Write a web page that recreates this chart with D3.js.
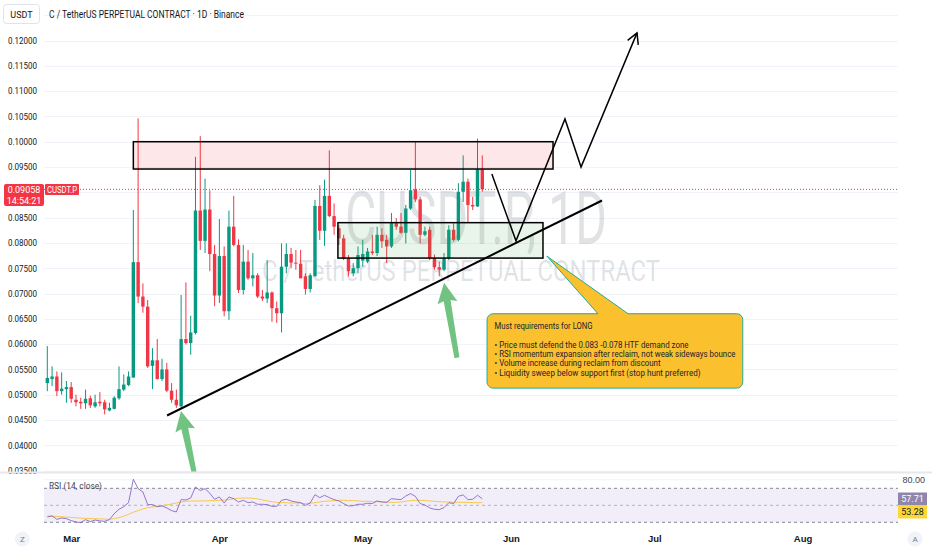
<!DOCTYPE html>
<html>
<head>
<meta charset="UTF-8">
<style>
  body { margin: 0; background: #ffffff; }
  svg { display: block; font-family: Roboto, "Noto Sans", sans-serif; }
</style>
</head>
<body>
<svg></svg>
<script src="https://cdnjs.cloudflare.com/ajax/libs/d3/7.8.5/d3.min.js"></script>
<script>

// daily candles, first one on 24 Feb 2025
const firstDay = "2025-02-24";

const opens = [0.0523,0.0531,0.0536,0.0507,0.0511,0.0515,0.0490,0.0486,0.0483,0.0493,
  0.0477,0.0486,0.0485,0.0469,0.0472,0.0493,0.0510,0.0519,0.0534,0.0762,
  0.0694,0.0674,0.0557,0.0568,0.0531,0.0550,0.0508,0.0490,0.0477,0.0610,
  0.0602,0.0622,0.0864,0.0804,0.0866,0.0778,0.0696,0.0774,0.0665,0.0832,
  0.0796,0.0707,0.0763,0.0730,0.0736,0.0694,0.0690,0.0702,0.0671,0.0661,
  0.0753,0.0778,0.0761,0.0759,0.0734,0.0709,0.0734,0.0873,0.0824,0.0893,
  0.0853,0.0829,0.0809,0.0770,0.0740,0.0750,0.0765,0.0763,0.0783,0.0780,
  0.0816,0.0806,0.0793,0.0839,0.0832,0.0820,0.0868,0.0906,0.0886,0.0816,
  0.0826,0.0770,0.0752,0.0747,0.0770,0.0826,0.0806,0.0901,0.0921,0.0875,
  0.0872,0.0945];

const highs = [0.0596,0.0556,0.0546,0.0544,0.0527,0.0525,0.0500,0.0494,0.0510,0.0498,
  0.0500,0.0505,0.0490,0.0484,0.0497,0.0556,0.0540,0.0546,0.0865,0.1046,
  0.0720,0.0687,0.0592,0.0610,0.0571,0.0563,0.0523,0.0510,0.0697,0.0722,
  0.0656,0.0970,0.1011,0.0927,0.0904,0.0796,0.0847,0.0793,0.0864,0.0893,
  0.0807,0.0796,0.0786,0.0780,0.0740,0.0707,0.0766,0.0704,0.0684,0.0799,
  0.0799,0.0790,0.0786,0.0786,0.0740,0.0740,0.0885,0.0914,0.0925,0.0983,
  0.0878,0.0835,0.0816,0.0776,0.0760,0.0793,0.0806,0.0790,0.0816,0.0832,
  0.0829,0.0816,0.0859,0.0849,0.0859,0.0875,0.0944,0.1000,0.0891,0.0832,
  0.0832,0.0777,0.0763,0.0780,0.0835,0.0839,0.0918,0.0973,0.0927,0.0891,
  0.1006,0.0973];

const lows = [0.0507,0.0517,0.0497,0.0500,0.0484,0.0484,0.0477,0.0472,0.0472,0.0474,
  0.0474,0.0477,0.0461,0.0467,0.0471,0.0490,0.0507,0.0517,0.0533,0.0681,
  0.0662,0.0553,0.0511,0.0530,0.0527,0.0505,0.0484,0.0474,0.0474,0.0599,
  0.0579,0.0619,0.0786,0.0780,0.0744,0.0675,0.0681,0.0655,0.0648,0.0793,
  0.0701,0.0698,0.0727,0.0714,0.0691,0.0685,0.0681,0.0644,0.0642,0.0623,
  0.0740,0.0750,0.0747,0.0730,0.0698,0.0702,0.0734,0.0806,0.0794,0.0851,
  0.0816,0.0796,0.0766,0.0734,0.0734,0.0740,0.0753,0.0760,0.0776,0.0774,
  0.0790,0.0760,0.0790,0.0826,0.0818,0.0799,0.0865,0.0881,0.0799,0.0813,
  0.0766,0.0747,0.0734,0.0744,0.0766,0.0803,0.0803,0.0881,0.0839,0.0865,
  0.0871,0.0901];

const closes = [0.0533,0.0536,0.0507,0.0512,0.0515,0.0492,0.0485,0.0483,0.0492,0.0479,
  0.0485,0.0483,0.0471,0.0474,0.0494,0.0511,0.0520,0.0536,0.0762,0.0694,
  0.0674,0.0556,0.0568,0.0531,0.0550,0.0508,0.0490,0.0479,0.0610,0.0602,
  0.0623,0.0864,0.0804,0.0866,0.0778,0.0696,0.0774,0.0665,0.0832,0.0796,
  0.0707,0.0763,0.0730,0.0736,0.0694,0.0690,0.0702,0.0671,0.0661,0.0753,
  0.0778,0.0761,0.0759,0.0730,0.0709,0.0736,0.0873,0.0824,0.0893,0.0853,
  0.0832,0.0809,0.0770,0.0744,0.0750,0.0776,0.0778,0.0783,0.0780,0.0816,
  0.0803,0.0793,0.0839,0.0832,0.0820,0.0868,0.0904,0.0886,0.0816,0.0823,
  0.0770,0.0752,0.0747,0.0770,0.0826,0.0806,0.0901,0.0921,0.0875,0.0872,
  0.0945,0.09058];

const rsi = [36.3,37.5,33.5,35.1,34.3,32.0,30.4,29.6,33.1,30.8,
  32.7,31.6,31.2,33.1,40.2,45.3,48.4,53.1,80.6,69.6,
  65.7,50.8,50.8,48.4,49.2,46.9,43.7,42.2,56.7,56.3,
  58.6,71.6,67.3,69.6,64.1,57.1,59.8,52.7,59.8,57.8,
  53.9,55.9,53.1,53.9,51.2,51.2,50.8,48.8,48.8,55.9,
  57.1,55.1,53.9,53.1,50.0,52.7,62.5,59.0,61.8,59.0,
  56.7,55.1,52.0,49.2,49.6,51.2,51.2,52.4,52.0,55.1,
  53.9,53.5,57.8,57.1,56.7,61.0,63.7,60.6,52.0,50.4,
  46.9,45.3,44.9,47.3,53.1,52.0,60.6,62.2,56.7,57.1,
  61.8,57.71];

const rsiMa = [37.5,37.2,36.9,36.5,36.1,35.7,35.3,34.9,34.6,34.4,34.2,34.0,33.8,33.6,
  34.3,35.5,37.1,39.4,41.8,43.7,45.7,47.3,48.0,48.8,49.6,50.4,51.6,52.7,
  53.9,54.7,55.1,55.1,55.1,55.1,55.5,55.5,55.9,56.3,56.7,57.5,58.2,58.6,
  58.6,58.2,57.5,56.3,55.1,54.3,53.5,53.1,53.1,52.7,52.7,52.4,52.0,52.4,
  53.1,53.9,54.7,55.1,55.5,55.9,55.9,55.5,55.5,55.1,54.7,54.7,54.3,54.3,
  53.9,53.9,53.5,53.5,53.9,54.7,55.5,55.9,55.9,55.5,55.1,54.7,54.3,53.9,
  53.9,53.5,53.5,53.5,53.5,53.1,53.1,53.28];

const priceGrid = [0.035,0.04,0.045,0.05,0.055,0.06,0.065,0.07,0.075,0.08,
  0.085,0.09,0.095,0.1,0.105,0.11,0.115,0.12,0.125];
// 0.09 and 0.125 sit under the price tag and the USDT button
const priceLabels = [0.035,0.04,0.045,0.05,0.055,0.06,0.065,0.07,0.075,0.08,
  0.085,0.095,0.1,0.105,0.11,0.115,0.12];
const monthTicks = ["2025-03-01","2025-04-01","2025-05-01","2025-06-01","2025-07-01","2025-08-01"];
const rsiBands = [70, 50, 30];
const rsiTicks = [80];

// drawings, in days after firstDay and price
const supplyZone = [18.0, 105.8, 0.0946, 0.1000];
const demandZone = [60.8, 103.7, 0.0770, 0.0840];
const trendLine = [[25.05, 0.04589], [116.05, 0.08838]];
const projection = [[93.0, 0.0936], [98.05, 0.0804], [108.3, 0.1045], [111.66, 0.0950], [123.37, 0.1215]];
const arrows = [[[27.97, 0.0468], [30.7, 0.0347]], [[83.0, 0.0721], [85.7, 0.0573]]];
const callout = { box: [92.0, 145.5, 0.0660, 0.0513], tip: [104.5, 0.0774], base: [115.2, 121.5] };
const noteTitle = "Must requirements for LONG";
const noteLines = [
  "• Price must defend the 0.083 -0.078 HTF demand zone",
  "• RSI momentum expansion after reclaim, not weak sideways bounce",
  "• Volume increase during reclaim from discount",
  "• Liquidity sweep below support first (stop hunt preferred)"
];
const noteWidths = [98, 194, 241, 166, 206];

const W = 932, H = 550;
const green = "#089981", red = "#f23645";
const left = 44, right = 898;
const paneBottom = 472, rsiTop = 473, rsiBottom = 531;

const svg = d3.select("svg").attr("width", W).attr("height", H);

const t0 = d3.utcParse("%Y-%m-%d")(firstDay);
const DAY = 864e5;
const day = d => new Date(+t0 + d * DAY);
const dates = closes.map((_, i) => day(i));

const x = d3.scaleUtc()
    .domain([t0, day(180)])
    .range([47.3, 47.3 + 180 * 4.78]);
const y = d3.scaleLinear().domain([0.035, 0.12]).range([470.6, 40.5]);
const yr = d3.scaleLinear().domain([30, 70]).range([522.3, 488.3]);

const px = p => [x(day(p[0])), y(p[1])];

svg.append("clipPath").attr("id", "pc")
  .append("rect").attr("x", left).attr("y", 0).attr("width", right - left).attr("height", paneBottom);
svg.append("clipPath").attr("id", "rc")
  .append("rect").attr("x", left).attr("y", rsiTop).attr("width", right - left).attr("height", rsiBottom - rsiTop);

// grid
svg.append("g").selectAll("line").data(priceGrid).enter().append("line")
    .attr("x1", left).attr("x2", right)
    .attr("y1", d => Math.round(y(d)) + 0.5).attr("y2", d => Math.round(y(d)) + 0.5)
    .attr("stroke", "#f0f3fa");

// watermark
svg.append("text").attr("x", 476).attr("y", 244).attr("text-anchor", "middle")
    .attr("font-size", 74).attr("textLength", 262).attr("lengthAdjust", "spacingAndGlyphs")
    .attr("fill", "rgba(120,123,134,0.22)").text("CUSDT.P, 1D");
svg.append("text").attr("x", 461).attr("y", 281).attr("text-anchor", "middle")
    .attr("font-size", 30).attr("textLength", 398).attr("lengthAdjust", "spacingAndGlyphs")
    .attr("fill", "rgba(120,123,134,0.22)").text("C / TetherUS PERPETUAL CONTRACT");

const price = svg.append("g").attr("clip-path", "url(#pc)");

// candles
const candles = price.append("g").selectAll("g").data(dates).enter().append("g");
candles.append("line")
    .attr("x1", d => x(d)).attr("x2", d => x(d))
    .attr("y1", (d, i) => y(highs[i])).attr("y2", (d, i) => y(lows[i]))
    .attr("stroke", (d, i) => closes[i] >= opens[i] ? green : red)
    .attr("stroke-width", 1);
candles.append("rect")
    .attr("x", d => x(d) - 1.7).attr("width", 3.4)
    .attr("y", (d, i) => y(Math.max(opens[i], closes[i])))
    .attr("height", (d, i) => Math.max(1, Math.abs(y(opens[i]) - y(closes[i]))))
    .attr("fill", (d, i) => closes[i] >= opens[i] ? green : red);

// zones
function zone(z, fill) {
  price.append("rect")
      .attr("x", x(day(z[0]))).attr("y", y(z[3]))
      .attr("width", x(day(z[1])) - x(day(z[0])))
      .attr("height", y(z[2]) - y(z[3]))
      .attr("fill", fill).attr("stroke", "#000").attr("stroke-width", 1.5);
}
zone(supplyZone, "rgba(242,54,69,0.12)");
zone(demandZone, "rgba(76,175,80,0.12)");

// current price line
price.append("line")
    .attr("x1", left).attr("x2", right)
    .attr("y1", y(closes[closes.length - 1])).attr("y2", y(closes[closes.length - 1]))
    .attr("stroke", red).attr("stroke-dasharray", "1,2").attr("stroke-width", 1);

// trend line and projected path
price.append("path")
    .attr("d", d3.line()(trendLine.map(px)))
    .attr("fill", "none").attr("stroke", "#000").attr("stroke-width", 2);

const pts = projection.map(px);
price.append("path")
    .attr("d", d3.line()(pts))
    .attr("fill", "none").attr("stroke", "#000").attr("stroke-width", 1.5).attr("stroke-linejoin", "miter");
{
  const a = pts[pts.length - 2], b = pts[pts.length - 1];
  const ang = Math.atan2(b[1] - a[1], b[0] - a[0]);
  const head = [-0.5, 0.5].map(s => [b[0] - 12 * Math.cos(ang + s), b[1] - 12 * Math.sin(ang + s)]);
  price.append("path")
      .attr("d", d3.line()([head[0], b, head[1]]))
      .attr("fill", "none").attr("stroke", "#000").attr("stroke-width", 1.5);
}

// green arrows
arrows.forEach(ar => {
  const tip = px(ar[0]), tail = px(ar[1]);
  const dx = tail[0] - tip[0], dy = tail[1] - tip[1];
  const len = Math.hypot(dx, dy);
  const ux = dx / len, uy = dy / len, nx = -uy, ny = ux;
  const at = (s, n) => [tip[0] + ux * s + nx * n, tip[1] + uy * s + ny * n];
  const shape = [at(0, 0), at(20, 10), at(18, 3.5), at(len, 2.5), at(len, -2.5), at(18, -3.5), at(20, -10)];
  svg.append("path")
      .attr("d", d3.line()(shape) + "Z")
      .attr("fill", "#6abf7b").attr("fill-opacity", 0.95);
});

// callout
{
  const x0 = x(day(callout.box[0])), x1 = x(day(callout.box[1]));
  const y0 = y(callout.box[2]), y1 = y(callout.box[3]);
  const t = px(callout.tip);
  const bl = x(day(callout.base[0])), br = x(day(callout.base[1]));
  const r = 6;
  const p = d3.path();
  p.moveTo(x0 + r, y0);
  p.lineTo(bl, y0); p.lineTo(t[0], t[1]); p.lineTo(br, y0);
  p.lineTo(x1 - r, y0); p.arcTo(x1, y0, x1, y0 + r, r);
  p.lineTo(x1, y1 - r); p.arcTo(x1, y1, x1 - r, y1, r);
  p.lineTo(x0 + r, y1); p.arcTo(x0, y1, x0, y1 - r, r);
  p.lineTo(x0, y0 + r); p.arcTo(x0, y0, x0 + r, y0, r);
  p.closePath();
  svg.append("path").attr("d", p.toString())
      .attr("fill", "#fbc02d").attr("stroke", "#22ab94").attr("stroke-width", 1);

  const tg = svg.append("g").attr("font-size", 8.5).attr("fill", "#1e222d");
  tg.append("text").attr("x", x0 + 7.5).attr("y", y0 + 15).text(noteTitle)
      .attr("textLength", noteWidths[0]).attr("lengthAdjust", "spacingAndGlyphs");
  noteLines.forEach((s, i) => {
    tg.append("text").attr("x", x0 + 7.5).attr("y", y0 + 34.3 + i * 9.2).text(s)
        .attr("textLength", noteWidths[i + 1]).attr("lengthAdjust", "spacingAndGlyphs");
  });
}

// price axis (left)
const ya = svg.append("g").attr("transform", `translate(${left - 4},0)`)
    .call(d3.axisLeft(y).tickValues(priceLabels).tickFormat(d3.format(".5f")).tickSize(0));
ya.select(".domain").remove();
ya.selectAll("text").attr("font-size", 9).attr("fill", "#131722")
    .attr("font-family", "Roboto, sans-serif").attr("textLength", 29).attr("lengthAdjust", "spacingAndGlyphs");

// current price labels
svg.append("rect").attr("x", 4).attr("y", 184).attr("width", 40).attr("height", 22).attr("rx", 2).attr("fill", red);
svg.append("text").attr("x", 24).attr("y", 193).attr("text-anchor", "middle").attr("font-size", 9)
    .attr("fill", "#fff").text(d3.format(".5f")(closes[closes.length - 1]));
svg.append("text").attr("x", 24).attr("y", 204).attr("text-anchor", "middle").attr("font-size", 9)
    .attr("fill", "#fff").text("14:54:21");
svg.append("rect").attr("x", 45).attr("y", 184).attr("width", 34).attr("height", 11).attr("rx", 1).attr("fill", red);
svg.append("text").attr("x", 62).attr("y", 192.6).attr("text-anchor", "middle").attr("font-size", 8.5)
    .attr("fill", "#fff").attr("textLength", 30).attr("lengthAdjust", "spacingAndGlyphs").text("CUSDT.P");

// header
svg.append("rect").attr("x", 3.5).attr("y", 4.5).attr("width", 36).attr("height", 19).attr("rx", 3)
    .attr("fill", "#fff").attr("stroke", "#e0e3eb");
svg.append("text").attr("x", 21.5).attr("y", 17.5).attr("text-anchor", "middle").attr("font-size", 9)
    .attr("fill", "#131722").text("USDT");
svg.append("text").attr("x", 49).attr("y", 17.5).attr("font-size", 10).attr("fill", "#131722")
    .attr("textLength", 195).attr("lengthAdjust", "spacingAndGlyphs")
    .text("C / TetherUS PERPETUAL CONTRACT · 1D · Binance");

// pane separator
svg.append("line").attr("x1", 0).attr("x2", W).attr("y1", 472.5).attr("y2", 472.5)
    .attr("stroke", "#e6e8ee").attr("stroke-width", 2);

// RSI pane
svg.append("line").attr("x1", left).attr("x2", right).attr("y1", yr(80)).attr("y2", yr(80)).attr("stroke", "#f0f3fa");
svg.append("rect").attr("x", left).attr("width", right - left)
    .attr("y", yr(70)).attr("height", yr(30) - yr(70)).attr("fill", "rgba(126,87,194,0.1)");
svg.append("g").selectAll("line").data(rsiBands).enter().append("line")
    .attr("x1", left).attr("x2", right).attr("y1", d => yr(d)).attr("y2", d => yr(d))
    .attr("stroke", "#787b86").attr("stroke-opacity", d => d === 50 ? 0.5 : 0.9)
    .attr("stroke-dasharray", "3,3");

const rp = svg.append("g").attr("clip-path", "url(#rc)");
rp.append("path").datum(rsiMa)
    .attr("d", d3.line().x((d, i) => x(dates[i])).y(d => yr(d)))
    .attr("fill", "none").attr("stroke", "#f7c948").attr("stroke-width", 1);
rp.append("path").datum(rsi)
    .attr("d", d3.line().x((d, i) => x(dates[i])).y(d => yr(d)))
    .attr("fill", "none").attr("stroke", "#7e57c2").attr("stroke-opacity", 0.8).attr("stroke-width", 1);

svg.append("text").attr("x", 49).attr("y", 489).attr("font-size", 9).attr("fill", "#434651")
    .attr("textLength", 53).attr("lengthAdjust", "spacingAndGlyphs").text("RSI (14, close)");

// RSI scale (right)
const ra = svg.append("g").attr("transform", `translate(${W - 4},0)`)
    .call(d3.axisLeft(yr).tickValues(rsiTicks).tickFormat(d3.format(".2f")).tickSize(0));
ra.select(".domain").remove();
ra.selectAll("text").attr("font-size", 9).attr("fill", "#434651");

svg.append("rect").attr("x", 898).attr("y", 492.5).attr("width", 29).attr("height", 13).attr("fill", "#9086ab");
svg.append("text").attr("x", 912.5).attr("y", 502.3).attr("text-anchor", "middle").attr("font-size", 9)
    .attr("fill", "#fff").text(d3.format(".2f")(rsi[rsi.length - 1]));
svg.append("rect").attr("x", 898).attr("y", 505.5).attr("width", 29).attr("height", 13).attr("fill", "#fdd835");
svg.append("text").attr("x", 912.5).attr("y", 515.3).attr("text-anchor", "middle").attr("font-size", 9)
    .attr("fill", "#131722").text(d3.format(".2f")(rsiMa[rsiMa.length - 1]));

// time axis
const xa = svg.append("g").attr("transform", "translate(0,532)")
    .call(d3.axisBottom(x).tickValues(monthTicks.map(d3.utcParse("%Y-%m-%d"))).tickFormat(d3.utcFormat("%b")).tickSize(0));
xa.select(".domain").remove();
xa.selectAll("text").attr("font-size", 9.5).attr("font-weight", 600).attr("fill", "#131722");

// corner buttons
[["Z", 22.3], ["A", 915]].forEach(([s, cx]) => {
  svg.append("circle").attr("cx", cx).attr("cy", 539).attr("r", 7.5).attr("fill", "#f0f3fa");
  svg.append("text").attr("x", cx).attr("y", 542).attr("text-anchor", "middle").attr("font-size", 8)
      .attr("fill", "#787b86").text(s);
});

</script>
</body>
</html>
